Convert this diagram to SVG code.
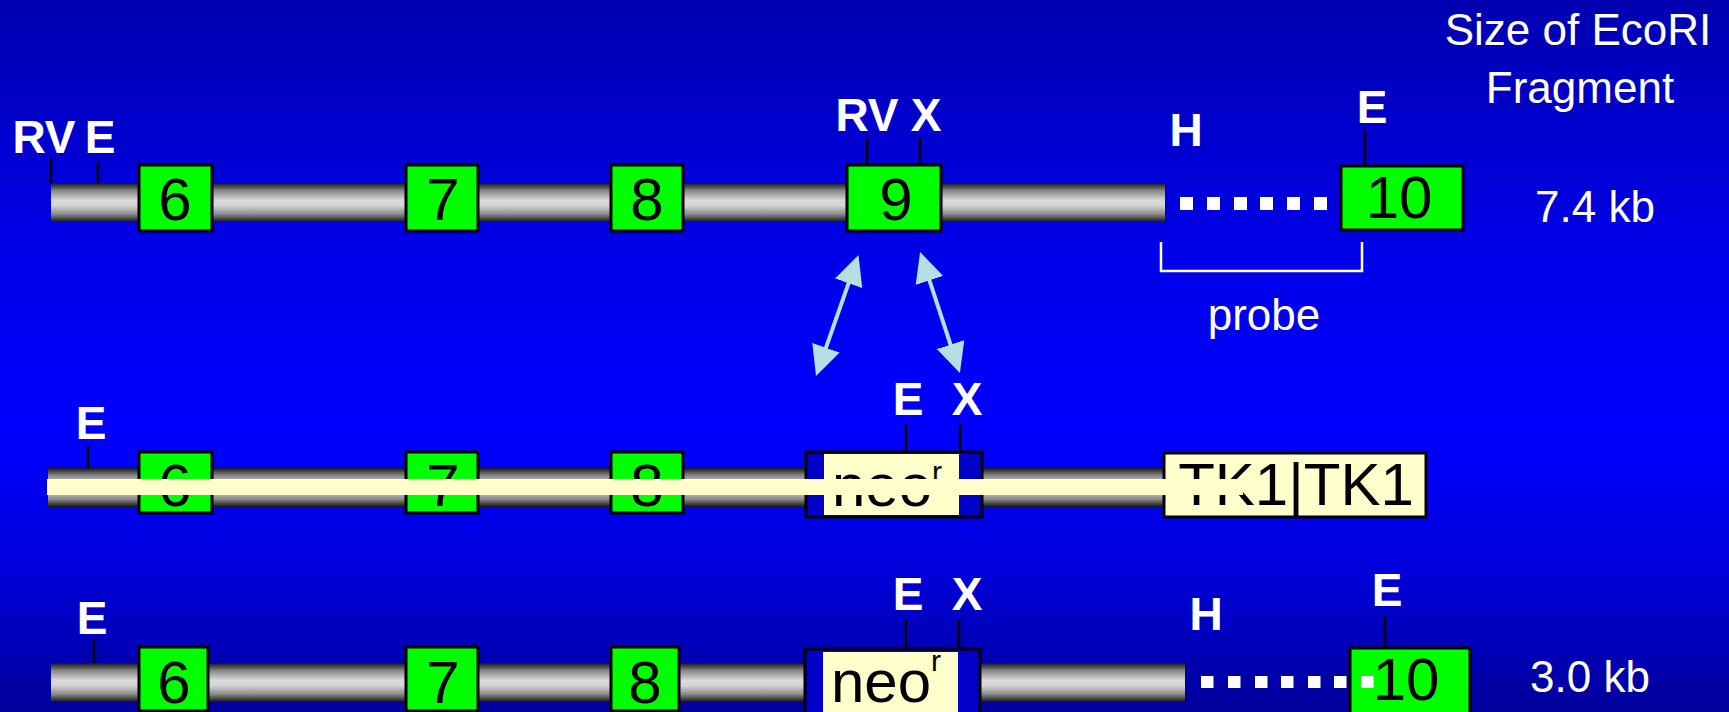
<svg xmlns="http://www.w3.org/2000/svg" width="1729" height="712" viewBox="0 0 1729 712">
<defs>
<linearGradient id="bg" x1="0" y1="0" x2="0" y2="1">
<stop offset="0" stop-color="#0000b0"/>
<stop offset="0.35" stop-color="#0000e8"/>
<stop offset="0.6" stop-color="#0000ff"/>
<stop offset="0.78" stop-color="#0000e0"/>
<stop offset="1" stop-color="#00009a"/>
</linearGradient>
<linearGradient id="bar" x1="0" y1="0" x2="0" y2="1">
<stop offset="0" stop-color="#151515"/>
<stop offset="0.2" stop-color="#8a8a8a"/>
<stop offset="0.45" stop-color="#dadada"/>
<stop offset="0.58" stop-color="#d4d4d4"/>
<stop offset="0.8" stop-color="#8a8a8a"/>
<stop offset="1" stop-color="#151515"/>
</linearGradient>
<marker id="ah" markerUnits="userSpaceOnUse" markerWidth="30" markerHeight="29" viewBox="0 0 30 29" refX="5" refY="14.5" orient="auto-start-reverse">
<path d="M0,0 L30,14.5 L0,29 z" fill="#b4e0e4"/>
</marker>
<style>
.bar{fill:url(#bar)}
.exon{fill:#00ff00;stroke:#000;stroke-width:3}
.num{font-family:"Liberation Sans",Arial,sans-serif;font-size:60px;fill:#000;text-anchor:middle}
.site{font-family:"Liberation Sans",Arial,sans-serif;font-size:46px;font-weight:bold;fill:#fff;text-anchor:middle}
.tick{stroke:#000;stroke-width:2.5}
.dot{fill:#fff}
.lbl{font-family:"Liberation Sans",Arial,sans-serif;font-size:44px;fill:#fff;text-anchor:middle}
.neo{fill:#0000c8;stroke:#000;stroke-width:3}
.neoin{fill:#ffffcc}
.neot{font-family:"Liberation Sans",Arial,sans-serif;font-size:60px;fill:#000}
.tk{fill:#ffffcc;stroke:#000;stroke-width:3}
.arr{stroke:#b4e0e4;stroke-width:4;fill:none}
</style>
</defs>
<rect x="0" y="0" width="1729" height="712" fill="url(#bg)"/>

<g id="title">
<text class="lbl" x="1578" y="45" font-size="45">Size of EcoRI</text>
<text class="lbl" x="1580" y="103" font-size="45">Fragment</text>
</g>

<!-- Row 1: wild type -->
<g id="row1">
<rect class="bar" x="51" y="183" width="1114" height="39"/>
<g id="r1-sites">
<line class="tick" x1="51" y1="158" x2="51" y2="183"/>
<line class="tick" x1="98" y1="161" x2="98" y2="183"/>
<line class="tick" x1="867" y1="137" x2="867" y2="165"/>
<line class="tick" x1="920" y1="137" x2="920" y2="165"/>
<line class="tick" x1="1365" y1="130" x2="1365" y2="165"/>
<text class="site" x="44" y="153">RV</text>
<text class="site" x="100" y="153">E</text>
<text class="site" x="867" y="131">RV</text>
<text class="site" x="926" y="131">X</text>
<text class="site" x="1186" y="146">H</text>
<text class="site" x="1372" y="123">E</text>
</g>
<g id="r1-exon6"><rect class="exon" x="139" y="165" width="73" height="66"/><text class="num" x="175" y="220">6</text></g>
<g id="r1-exon7"><rect class="exon" x="406" y="165" width="72" height="66"/><text class="num" x="443" y="220">7</text></g>
<g id="r1-exon8"><rect class="exon" x="611" y="165" width="72" height="66"/><text class="num" x="647" y="220">8</text></g>
<g id="r1-exon9"><rect class="exon" x="847" y="165" width="94" height="66"/><text class="num" x="896" y="220">9</text></g>
<g id="r1-dots">
<rect class="dot" x="1180" y="197" width="13" height="13"/>
<rect class="dot" x="1207" y="197" width="13" height="13"/>
<rect class="dot" x="1234" y="197" width="13" height="13"/>
<rect class="dot" x="1260" y="197" width="13" height="13"/>
<rect class="dot" x="1287" y="197" width="13" height="13"/>
<rect class="dot" x="1314" y="197" width="13" height="13"/>
</g>
<g id="r1-exon10"><rect class="exon" x="1341" y="166" width="122" height="64"/><text class="num" x="1399" y="218">10</text></g>
<text class="lbl" x="1595" y="222">7.4 kb</text>
</g>

<g id="probe">
<polyline points="1161,242 1161,271 1362,271 1362,242" fill="none" stroke="#fff" stroke-width="2.5"/>
<text class="lbl" x="1264" y="330">probe</text>
</g>

<!-- Row 2: targeting vector -->
<g id="row2">
<rect class="bar" x="48" y="468" width="1117" height="39"/>
<g id="r2-sites">
<line class="tick" x1="88" y1="446" x2="88" y2="468"/>
<line class="tick" x1="906" y1="423" x2="906" y2="452"/>
<line class="tick" x1="960" y1="423" x2="960" y2="452"/>
<text class="site" x="91" y="439">E</text>
<text class="site" x="908" y="415">E</text>
<text class="site" x="967" y="415">X</text>
</g>
<g id="r2-exon6"><rect class="exon" x="139" y="452" width="73" height="61"/><text class="num" x="175" y="506">6</text></g>
<g id="r2-exon7"><rect class="exon" x="406" y="452" width="72" height="61"/><text class="num" x="443" y="506">7</text></g>
<g id="r2-exon8"><rect class="exon" x="611" y="452" width="72" height="61"/><text class="num" x="647" y="506">8</text></g>
<g id="r2-neo">
<rect class="neo" x="806" y="452" width="176" height="65"/>
<rect class="neoin" x="824" y="454" width="135" height="61"/>
<text class="neot" x="832" y="506">neo<tspan font-size="30" dy="-24">r</tspan></text>
</g>
<g id="r2-tk">
<rect class="tk" x="1164" y="453" width="262" height="64"/>
<text class="neot" x="1296" y="505" font-size="50" text-anchor="middle">TK1|TK1</text>
</g>
<rect id="r2-band" x="47" y="479" width="1196" height="16" fill="#ffffcc"/>
</g>

<!-- Row 3: targeted allele -->
<g id="row3">
<rect class="bar" x="51" y="663" width="1134" height="39"/>
<g id="r3-sites">
<line class="tick" x1="94" y1="639" x2="94" y2="663"/>
<line class="tick" x1="906" y1="620" x2="906" y2="648"/>
<line class="tick" x1="959" y1="620" x2="959" y2="648"/>
<line class="tick" x1="1385" y1="616" x2="1385" y2="648"/>
<text class="site" x="92" y="634">E</text>
<text class="site" x="908" y="610">E</text>
<text class="site" x="967" y="610">X</text>
<text class="site" x="1206" y="630">H</text>
<text class="site" x="1387" y="606">E</text>
</g>
<g id="r3-exon6"><rect class="exon" x="139" y="647" width="69" height="64"/><text class="num" x="174" y="703">6</text></g>
<g id="r3-exon7"><rect class="exon" x="406" y="647" width="72" height="64"/><text class="num" x="443" y="703">7</text></g>
<g id="r3-exon8"><rect class="exon" x="611" y="647" width="68" height="64"/><text class="num" x="645" y="703">8</text></g>
<g id="r3-neo">
<rect class="neo" x="805" y="649" width="175" height="66"/>
<rect class="neoin" x="823" y="652" width="135" height="62"/>
<text class="neot" x="831" y="702">neo<tspan font-size="30" dy="-31">r</tspan></text>
</g>
<g id="r3-exon10"><rect class="exon" x="1350" y="648" width="120" height="66"/><text class="num" x="1406" y="700">10</text></g>
<g id="r3-dots">
<rect class="dot" x="1201" y="676" width="12.5" height="12"/>
<rect class="dot" x="1228" y="676" width="12.5" height="12"/>
<rect class="dot" x="1255" y="676" width="12.5" height="12"/>
<rect class="dot" x="1281" y="676" width="12.5" height="12"/>
<rect class="dot" x="1308" y="676" width="12.5" height="12"/>
<rect class="dot" x="1334" y="676" width="12.5" height="12"/>
<rect class="dot" x="1361" y="676" width="12.5" height="12"/>
</g>
<text class="lbl" x="1590" y="692">3.0 kb</text>
</g>

<g id="connectors">
<line class="arr" x1="850.2" y1="278.6" x2="824.3" y2="352.4" marker-start="url(#ah)" marker-end="url(#ah)"/>
<line class="arr" x1="927.9" y1="275.7" x2="952.1" y2="349.3" marker-start="url(#ah)" marker-end="url(#ah)"/>
</g>
</svg>
